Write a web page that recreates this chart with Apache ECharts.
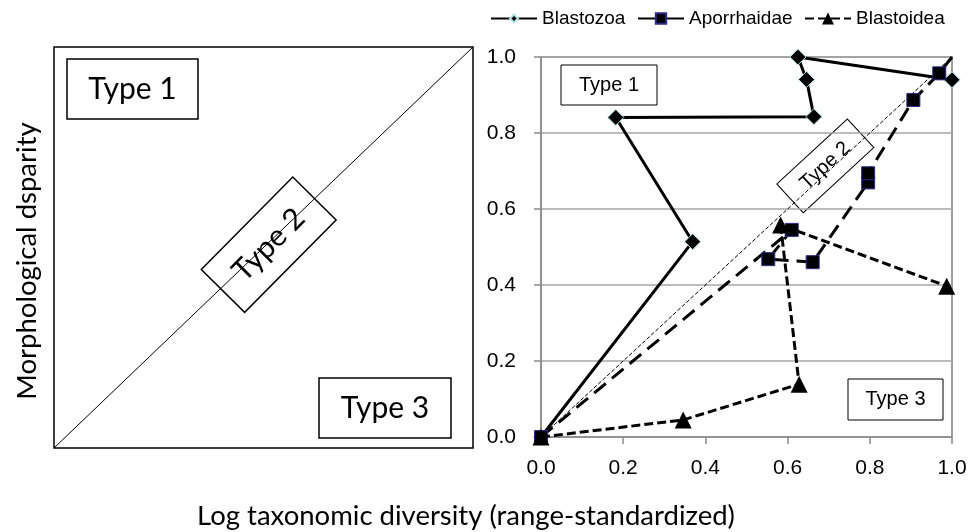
<!DOCTYPE html>
<html>
<head>
<meta charset="utf-8">
<script src="https://cdn.jsdelivr.net/npm/echarts@6/dist/echarts.min.js"></script>
<style>
html,body{margin:0;padding:0;background:#fff;}
#chart{width:971px;height:532px;}
</style>
</head>
<body>
<div id="chart"></div>
<script>
// ---- data ----
var seriesNames = ['Blastozoa', 'Aporrhaidae', 'Blastoidea'];
var blastozoaX = [0, 0.369, 0.182, 0.664, 0.646, 0.625, 1.0];
var blastozoaY = [0, 0.514, 0.841, 0.843, 0.941, 1.0, 0.94];
var aporrhaidaeX = [0, 0.61, 0.553, 0.661, 0.796, 0.796, 0.906, 0.969, 1.0];
var aporrhaidaeY = [0, 0.545, 0.468, 0.46, 0.67, 0.694, 0.887, 0.957, 1.0];
var blastoideaX = [0, 0.346, 0.628, 0.583, 0.987];
var blastoideaY = [0, 0.045, 0.139, 0.558, 0.397];
var diagonalX = [0, 1];
var diagonalY = [0, 1];
var tickValues = [0, 0.2, 0.4, 0.6, 0.8, 1.0];
var typeLabels = ['Type 1', 'Type 2', 'Type 3'];
var xTitle = 'Log taxonomic diversity (range-standardized)';
var yTitle = 'Morphological dsparity';

function pairs(xs, ys) {
  return xs.map(function (x, i) { return [x, ys[i]]; });
}

var chart = echarts.init(document.getElementById('chart'));
var SANS = '"Liberation Sans", Arial, sans-serif';
var CAL = 'Lato, "Open Sans", sans-serif';

var aporData = pairs(aporrhaidaeX, aporrhaidaeY).map(function (p, i, arr) {
  if (i === arr.length - 1) return { value: p, symbol: 'none' };
  return p;
});

function legendFor(name, left, h, extra) {
  var o = {
    data: [name], left: left, top: 9, padding: 0, itemWidth: 46, itemHeight: h,
    textStyle: { fontFamily: SANS, fontSize: 19, color: '#000' },
    selectedMode: false
  };
  if (extra) for (var k in extra) o[k] = extra[k];
  return o;
}

function box(x, y, w, h, text, size, font, lw) {
  return {
    type: 'group', x: x, y: y, z: 100,
    children: [
      { type: 'rect', shape: { x: 0, y: 0, width: w, height: h },
        style: { fill: '#fff', stroke: '#000', lineWidth: lw } },
      { type: 'text', x: w / 2, y: h / 2,
        style: { text: text, fontSize: size, fontFamily: font, fill: '#000',
                 align: 'center', verticalAlign: 'middle' } }
    ]
  };
}
function rotBox(cx, cy, w, h, rot, text, size, font, lw) {
  return {
    type: 'group', x: cx, y: cy, rotation: rot, z: 100,
    children: [
      { type: 'rect', shape: { x: -w / 2, y: -h / 2, width: w, height: h },
        style: { fill: '#fff', stroke: '#000', lineWidth: lw } },
      { type: 'text', x: 0, y: 0,
        style: { text: text, fontSize: size, fontFamily: font, fill: '#000',
                 align: 'center', verticalAlign: 'middle' } }
    ]
  };
}

var option = {
  animation: false,
  backgroundColor: '#fff',
  legend: [
    legendFor(seriesNames[0], 490, 10),
    legendFor(seriesNames[1], 637, 13, { lineStyle: { type: 'solid' } }),
    legendFor(seriesNames[2], 804, 15)
  ],
  grid: [
    { left: 54, top: 47, width: 419, height: 401, show: true,
      borderColor: '#000', borderWidth: 1.5, backgroundColor: 'transparent' },
    { left: 541, top: 57, width: 411, height: 380, show: true,
      borderColor: '#7f7f7f', borderWidth: 1.5, backgroundColor: 'transparent' }
  ],
  xAxis: [
    { type: 'value', gridIndex: 0, min: 0, max: 1, show: false },
    { type: 'value', gridIndex: 1, min: 0, max: 1, interval: 0.2,
      axisLine: { show: true, lineStyle: { color: '#8c8c8c', width: 1.5 } },
      axisTick: { show: true, inside: false, length: 7, lineStyle: { color: '#8c8c8c', width: 1.5 } },
      splitLine: { show: false },
      axisLabel: { margin: 21, fontFamily: SANS, fontSize: 21, color: '#000',
                   formatter: function (v) { return v.toFixed(1); } } }
  ],
  yAxis: [
    { type: 'value', gridIndex: 0, min: 0, max: 1, show: false },
    { type: 'value', gridIndex: 1, min: 0, max: 1, interval: 0.2,
      axisLine: { show: true, lineStyle: { color: '#8c8c8c', width: 1.5 } },
      axisTick: { show: true, inside: false, length: 7, lineStyle: { color: '#8c8c8c', width: 1.5 } },
      splitLine: { show: true, lineStyle: { color: '#a6a6a6', width: 1.5 } },
      axisLabel: { margin: 25, fontFamily: SANS, fontSize: 21, color: '#000',
                   formatter: function (v) { return v.toFixed(1); } } }
  ],
  series: [
    { name: 'schematic diagonal', type: 'line', xAxisIndex: 0, yAxisIndex: 0,
      data: pairs(diagonalX, diagonalY), symbol: 'none', silent: true,
      lineStyle: { color: '#000', width: 1 }, z: 1 },
    { name: 'Type 2 line', type: 'line', xAxisIndex: 1, yAxisIndex: 1,
      data: pairs(diagonalX, diagonalY), symbol: 'none', silent: true,
      lineStyle: { color: '#000', width: 1, type: [4, 2] }, z: 1 },
    { name: seriesNames[0], type: 'line', xAxisIndex: 1, yAxisIndex: 1,
      data: pairs(blastozoaX, blastozoaY),
      symbol: 'diamond', symbolSize: 16, showAllSymbol: true,
      lineStyle: { color: '#000', width: 3, type: 'solid' },
      itemStyle: { color: '#000', borderColor: '#b5e3e6', borderWidth: 1 }, z: 2 },
    { name: seriesNames[1], type: 'line', xAxisIndex: 1, yAxisIndex: 1,
      data: aporData,
      symbol: 'rect', symbolSize: 13, showAllSymbol: true,
      lineStyle: { color: '#000', width: 3, type: [15, 8] },
      itemStyle: { color: '#000', borderColor: '#2b2b8c', borderWidth: 1 }, z: 3 },
    { name: seriesNames[2], type: 'line', xAxisIndex: 1, yAxisIndex: 1,
      data: pairs(blastoideaX, blastoideaY),
      symbol: 'triangle', symbolSize: 17, showAllSymbol: true,
      lineStyle: { color: '#000', width: 3, type: [9, 4] },
      itemStyle: { color: '#000', borderColor: '#000', borderWidth: 0 }, z: 4 }
  ],
  graphic: [
    box(67, 59, 131, 60, typeLabels[0], 30, CAL, 1.5),
    box(319, 378, 132, 60, typeLabels[2], 30, CAL, 1.5),
    rotBox(268.7, 244.7, 130, 61, 0.79, typeLabels[1], 30, CAL, 1.5),
    box(561, 65, 96, 40, typeLabels[0], 20, SANS, 1),
    box(848, 379, 95, 41, typeLabels[2], 20, SANS, 1),
    rotBox(825.3, 165.8, 96, 39, 0.745, typeLabels[1], 20, SANS, 1),
    { type: 'text', x: 466, y: 516, z: 100,
      style: { text: xTitle, fontSize: 27.5, fontFamily: CAL, fill: '#000',
               align: 'center', verticalAlign: 'middle' } },
    { type: 'text', x: 27, y: 261, rotation: Math.PI / 2, z: 100,
      style: { text: yTitle, fontSize: 27.5, fontFamily: CAL, fill: '#000',
               align: 'center', verticalAlign: 'middle' } }
  ]
};
chart.setOption(option);
</script>
</body>
</html>
